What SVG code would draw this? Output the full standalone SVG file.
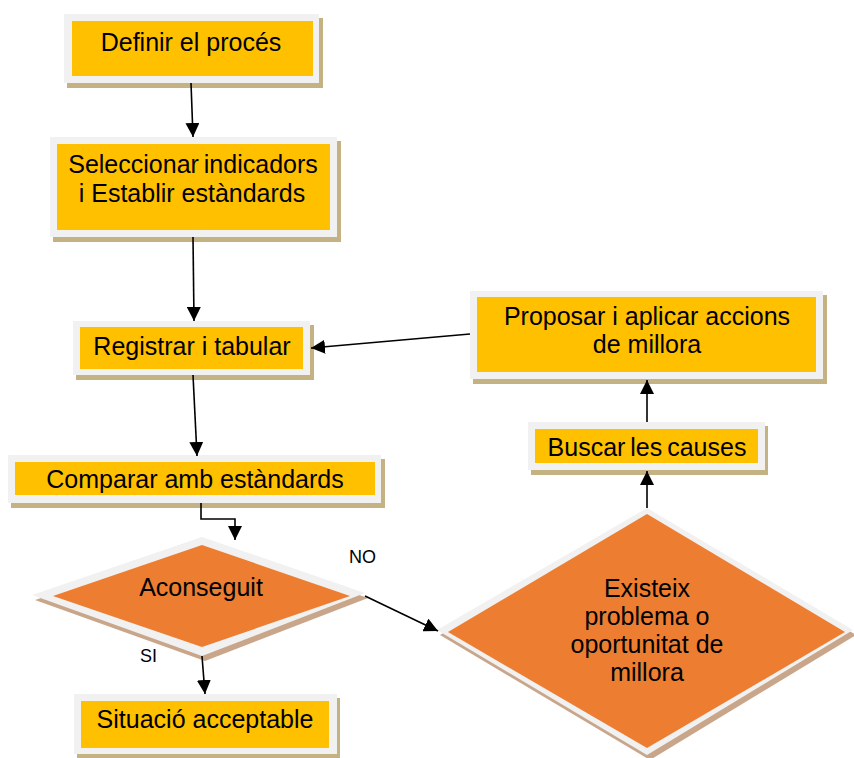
<svg xmlns="http://www.w3.org/2000/svg" width="854" height="758" viewBox="0 0 854 758">
  <style>
    .shadow { fill: #c4b283; }
    .dshadow { fill: #c9a68a; }
    .frame { fill: #f1f1f1; }
    .box { fill: #ffc000; }
    .dia { fill: #ed7d31; }
    .lbl { font-family: "Liberation Sans", Arial, sans-serif; font-size: 25px; fill: #000; text-anchor: middle; }
    .small { font-family: "Liberation Sans", Arial, sans-serif; font-size: 18px; fill: #000; }
    .conn { stroke: #000; stroke-width: 1.6; fill: none; marker-end: url(#arrow); }
  </style>
  <defs>
    <marker id="arrow" markerUnits="userSpaceOnUse" markerWidth="14" markerHeight="14" viewBox="0 0 14 14" refX="14" refY="7" orient="auto">
      <path d="M0,0 L14,7 L0,14 Z" fill="#000"/>
    </marker>
  </defs>

  <rect width="854" height="758" fill="#fff"/>

  <!-- process boxes -->
  <g id="definir">
    <rect class="shadow" x="67" y="18" width="256" height="70"/>
    <rect class="frame" x="64" y="14" width="255" height="69"/>
    <rect class="box" x="72" y="21" width="241" height="55"/>
    <text class="lbl" x="191" y="51">Definir el procés</text>
  </g>

  <g id="seleccionar">
    <rect class="shadow" x="53" y="141" width="288" height="101"/>
    <rect class="frame" x="50" y="137" width="287" height="100"/>
    <rect class="box" x="57" y="144" width="273" height="86"/>
    <text class="lbl" x="193" y="173" word-spacing="-2">Seleccionar indicadors</text>
    <text class="lbl" x="192" y="202">i Establir estàndards</text>
  </g>

  <g id="registrar">
    <rect class="shadow" x="76" y="325" width="238" height="55"/>
    <rect class="frame" x="73" y="321" width="237" height="54"/>
    <rect class="box" x="80" y="327" width="223" height="42"/>
    <text class="lbl" x="192" y="355">Registrar i tabular</text>
  </g>

  <g id="comparar">
    <rect class="shadow" x="11" y="459" width="374" height="49"/>
    <rect class="frame" x="8" y="455" width="373" height="48"/>
    <rect class="box" x="15" y="462" width="360" height="33"/>
    <text class="lbl" x="195" y="488">Comparar amb estàndards</text>
  </g>

  <g id="proposar">
    <rect class="shadow" x="473" y="295" width="354" height="89"/>
    <rect class="frame" x="470" y="291" width="353" height="88"/>
    <rect class="box" x="477" y="297" width="339" height="75"/>
    <text class="lbl" x="647" y="325">Proposar i aplicar accions</text>
    <text class="lbl" x="647" y="353">de millora</text>
  </g>

  <g id="buscar">
    <rect class="shadow" x="531" y="426" width="237" height="49"/>
    <rect class="frame" x="528" y="422" width="237" height="48"/>
    <rect class="box" x="535" y="429" width="223" height="34"/>
    <text class="lbl" x="647" y="456" word-spacing="-2">Buscar les causes</text>
  </g>

  <g id="situacio">
    <rect class="shadow" x="77" y="698" width="263" height="60"/>
    <rect class="frame" x="74" y="694" width="263" height="60"/>
    <rect class="box" x="81" y="701" width="248" height="47"/>
    <text class="lbl" x="205" y="728">Situació acceptable</text>
  </g>

  <!-- decisions -->
  <g id="aconseguit">
    <polygon class="dshadow" points="35,600 205,542 368,598 205,661"/>
    <polygon class="frame" points="32,595 202,537 365,593 202,656"/>
    <polygon class="dia" points="53,596 202,545 350,596 202,647"/>
    <text class="lbl" x="201" y="596">Aconseguit</text>
  </g>

  <g id="existeix">
    <polygon class="dshadow" points="440,635 650,513 856,635 650,760"/>
    <polygon class="frame" points="437,630 647,508 853,630 647,755"/>
    <polygon class="dia" points="448,632 647,514 845,632 647,748"/>
    <text class="lbl" x="647" y="597">Existeix</text>
    <text class="lbl" x="647" y="625">problema o</text>
    <text class="lbl" x="647" y="653">oportunitat de</text>
    <text class="lbl" x="647" y="681">millora</text>
  </g>

  <!-- connectors -->
  <g id="connectors">
    <path class="conn" d="M191,83 L193,137"/>
    <path class="conn" d="M193,237 L194,321"/>
    <path class="conn" d="M193,375 L197,456"/>
    <path class="conn" d="M201,503 L201,519 L235,519 L235,540"/>
    <path class="conn" d="M202,656 L205,694"/>
    <path class="conn" d="M365,596 L438,631"/>
    <path class="conn" d="M647,508 L647,471"/>
    <path class="conn" d="M647,422 L647,380"/>
    <path class="conn" d="M470,334 L311,348"/>
    <text class="small" x="349" y="563">NO</text>
    <text class="small" x="140" y="662">SI</text>
  </g>
</svg>
